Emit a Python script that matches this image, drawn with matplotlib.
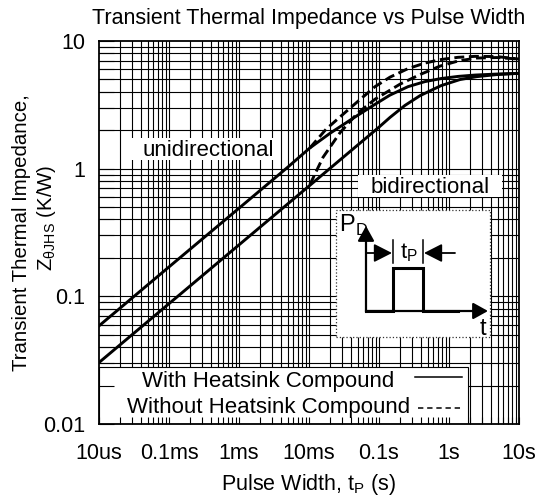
import matplotlib
matplotlib.use('Agg')
import matplotlib.pyplot as plt
from matplotlib.patches import Rectangle
from matplotlib.lines import Line2D
from matplotlib.ticker import LogLocator, NullFormatter

plt.rcParams['font.family'] = ['Liberation Sans', 'DejaVu Sans']
plt.rcParams['mathtext.fontset'] = 'custom'
plt.rcParams['mathtext.rm'] = 'Liberation Sans'

# ---------------- data ----------------
x_tick_values = [1e-5, 1e-4, 1e-3, 1e-2, 1e-1, 1, 10]
x_tick_labels = ['10us', '0.1ms', '1ms', '10ms', '0.1s', '1s', '10s']
y_tick_values = [0.01, 0.1, 1, 10]
y_tick_labels = ['0.01', '0.1', '1', '10']

# With heatsink compound, unidirectional (solid, upper)
t_uni_with = [1e-5, 1e-4, 1e-3, 5e-3, 0.0103, 0.02, 0.0385, 0.0794, 0.1436, 0.26,
              0.454, 0.769, 1.346, 2.35, 4.85, 10]
z_uni_with = [0.0587, 0.17, 0.49, 1.03, 1.454, 1.894, 2.395, 3.086, 3.77, 4.39,
              4.81, 5.08, 5.28, 5.41, 5.51, 5.58]

# With heatsink compound, bidirectional (solid, lower)
t_bi_with = [1e-5, 1e-4, 1e-3, 0.01, 0.05, 0.1, 0.1436, 0.235, 0.385, 0.769,
             1.436, 2.51, 4.85, 10]
z_bi_with = [0.0303, 0.0876, 0.253, 0.731, 1.536, 2.115, 2.52, 3.13, 3.73, 4.47,
             4.99, 5.26, 5.46, 5.58]

# Without heatsink compound, unidirectional (dashed, upper)
t_uni_without = [0.0103, 0.0175, 0.0385, 0.0877, 0.1436, 0.26, 0.454, 0.769,
                 1.346, 2.35, 4.85, 10]
z_uni_without = [1.454, 2.035, 2.977, 4.39, 5.21, 6.08, 6.72, 7.16, 7.45, 7.58,
                 7.55, 7.22]

# Without heatsink compound, bidirectional (dashed, lower)
t_bi_without = [0.0103, 0.01585, 0.0277, 0.0485, 0.0877, 0.1995, 0.385, 0.744,
                1.346, 2.43, 4.85, 10]
z_bi_without = [0.75, 1.227, 1.911, 2.695, 3.50, 4.59, 5.46, 6.36, 6.97, 7.35,
                7.42, 7.22]

title = 'Transient Thermal Impedance vs Pulse Width'
xlabel = r'Pulse Width, t$_\mathregular{P}$ (s)'
ylabel1 = 'Transient Thermal Impedance,'
ylabel2 = r'Z$_\mathregular{θJHS}$ (K/W)'
legend_with = 'With Heatsink Compound'
legend_without = 'Without Heatsink Compound'

# ---------------- figure ----------------
W, H = 540, 497
fig = plt.figure(figsize=(W / 100, H / 100), dpi=100)
AX_L, AX_R, AX_T, AX_B = 99, 519, 41, 424
ax = fig.add_axes([AX_L / W, 1 - AX_B / H, (AX_R - AX_L) / W, (AX_B - AX_T) / H])
ax.set_xscale('log')
ax.set_yscale('log')
ax.set_xlim(1e-5, 10)
ax.set_ylim(0.01, 10)


def apt(px, py):
    return ((px - AX_L) / (AX_R - AX_L), (AX_B - py) / (AX_B - AX_T))


def pbox(x0, y0, x1, y1, **kw):
    fx0, fy1 = apt(x0, y0)
    fx1, fy0 = apt(x1, y1)
    r = Rectangle((fx0, fy0), fx1 - fx0, fy1 - fy0, transform=ax.transAxes, **kw)
    ax.add_patch(r)
    return r


# grid (manual so that boxes can cover it while ticks stay on top)
for d in range(-5, 1):
    for m in range(1, 10):
        v = m * 10.0 ** d
        if 1e-5 < v < 10:
            ax.axvline(v, color='black', lw=0.8, zorder=0.5)
for d in range(-2, 1):
    for m in range(1, 10):
        v = m * 10.0 ** d
        if 0.01 < v < 10:
            ax.axhline(v, color='black', lw=0.8, zorder=0.5)

# curves
dash = (0, (3.4, 1.6))
ax.plot(t_uni_with, z_uni_with, color='black', lw=2.1, zorder=3, solid_joinstyle='round')
ax.plot(t_bi_with, z_bi_with, color='black', lw=2.1, zorder=3, solid_joinstyle='round')
ax.plot(t_uni_without, z_uni_without, color='black', lw=2.1, zorder=3, linestyle=dash)
ax.plot(t_bi_without, z_bi_without, color='black', lw=2.1, zorder=3, linestyle=dash)

# ticks
ax.set_xticks(x_tick_values)
ax.set_xticklabels(x_tick_labels)
ax.set_yticks(y_tick_values)
ax.set_yticklabels(y_tick_labels)
ax.xaxis.set_minor_locator(LogLocator(base=10, subs=range(2, 10), numticks=100))
ax.yaxis.set_minor_locator(LogLocator(base=10, subs=range(2, 10), numticks=100))
ax.xaxis.set_minor_formatter(NullFormatter())
ax.yaxis.set_minor_formatter(NullFormatter())
ax.tick_params(axis='x', which='both', direction='in', length=5, width=0.8,
               top=False, labelsize=15.5, pad=13.5)
ax.tick_params(axis='y', which='both', direction='in', length=11, width=0.8,
               right=False, labelsize=15.5, pad=10)
ax.xaxis.set_zorder(6)
ax.yaxis.set_zorder(6)
for s in ax.spines.values():
    s.set_linewidth(1.3)
    s.set_zorder(7)

# region labels
pbox(131, 138, 280, 160, facecolor='white', edgecolor='none', zorder=4)
ax.text(*apt(208, 156.5), 'unidirectional', transform=ax.transAxes, ha='center',
        va='baseline', fontsize=16, zorder=5)
pbox(358, 175, 502, 197, facecolor='white', edgecolor='none', zorder=4)
ax.text(*apt(430, 193), 'bidirectional', transform=ax.transAxes, ha='center',
        va='baseline', fontsize=16, zorder=5)

# legend box
pbox(AX_L, 367, 468, AX_B, facecolor='white', edgecolor='black', lw=0.8, zorder=4)
ax.text(*apt(142, 387), legend_with, transform=ax.transAxes, ha='left',
        va='baseline', fontsize=16, zorder=5)
ax.text(*apt(127, 413), legend_without, transform=ax.transAxes, ha='left',
        va='baseline', fontsize=16, zorder=5)
for (xa, xb, yy, ls) in [(415, 462, 377, '-'), (418, 463, 408, (0, (3.5, 2.5)))]:
    (fa, fy), (fb, _) = apt(xa, yy), apt(xb, yy)
    ax.add_line(Line2D([fa, fb], [fy, fy], transform=ax.transAxes, color='black',
                       lw=1.1, linestyle=ls, zorder=5))

# inset pulse sketch
pbox(336, 210, 490, 337, facecolor='white', edgecolor='#333333', lw=0.9,
     linestyle=':', zorder=4)
arrow_kw = dict(arrowstyle='-|>,head_length=0.45,head_width=0.25', color='black',
                lw=1.6, shrinkA=0, shrinkB=0, mutation_scale=20)
ax.annotate('', xy=apt(366, 226), xytext=apt(366, 312), xycoords='axes fraction',
            textcoords='axes fraction', arrowprops=arrow_kw, zorder=5)
ax.annotate('', xy=apt(488, 311), xytext=apt(366, 311), xycoords='axes fraction',
            textcoords='axes fraction', arrowprops=arrow_kw, zorder=5)
pulse_px = [(366, 311), (393, 311), (393, 268), (423, 268), (423, 311), (458, 311)]
ax.add_line(Line2D([apt(*p)[0] for p in pulse_px], [apt(*p)[1] for p in pulse_px],
                   transform=ax.transAxes, color='black', lw=2.2, zorder=5,
                   solid_joinstyle='miter'))
for xx in (393, 423):
    (fx, fy0), (_, fy1) = apt(xx, 240), apt(xx, 263)
    ax.add_line(Line2D([fx, fx], [fy0, fy1], transform=ax.transAxes, color='black',
                       lw=1.1, zorder=5))
arrow_kw2 = dict(arrowstyle='-|>,head_length=0.55,head_width=0.28', color='black',
                 lw=1.3, shrinkA=0, shrinkB=0, mutation_scale=20)
ax.annotate('', xy=apt(392, 253), xytext=apt(367, 253), xycoords='axes fraction',
            textcoords='axes fraction', arrowprops=arrow_kw2, zorder=5)
ax.annotate('', xy=apt(424, 253), xytext=apt(455, 253), xycoords='axes fraction',
            textcoords='axes fraction', arrowprops=arrow_kw2, zorder=5)
ax.text(*apt(409, 258), r't$_\mathregular{P}$', transform=ax.transAxes, ha='center',
        va='baseline', fontsize=16, zorder=5)
ax.text(*apt(339, 232), r'P$_\mathregular{D}$', transform=ax.transAxes, ha='left',
        va='baseline', fontsize=17, zorder=5)
ax.text(*apt(483, 335), 't', transform=ax.transAxes, ha='center',
        va='baseline', fontsize=17, zorder=5)

# titles
fig.text(309 / W, 1 - 24 / H, title, ha='center', va='baseline', fontsize=15.5)
fig.text(309 / W, 1 - 490 / H, xlabel, ha='center', va='baseline', fontsize=15.5)
fig.text(22 / W, 1 - 233 / H, ylabel1, rotation=90, ha='center', va='center', fontsize=14.7)
fig.text(46 / W, 1 - 218 / H, ylabel2, rotation=90, ha='center', va='center', fontsize=14.7)

fig.savefig('out.png', dpi=100)
